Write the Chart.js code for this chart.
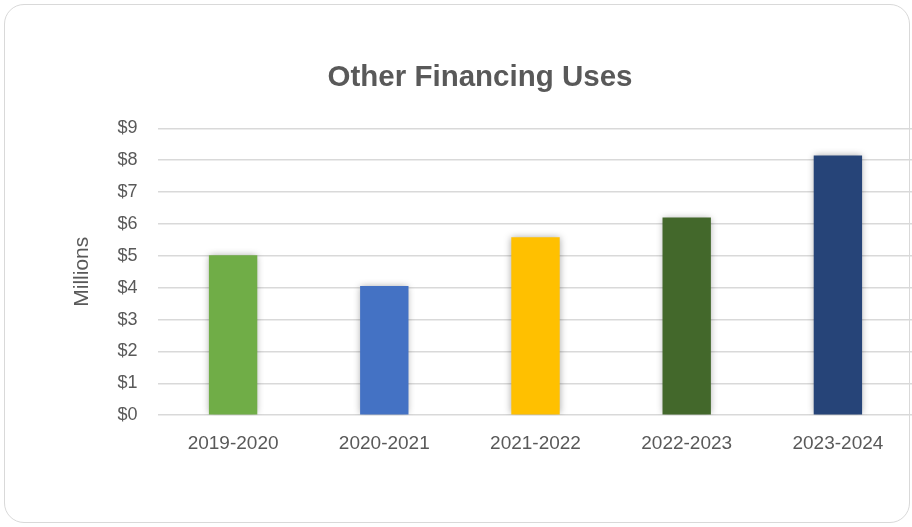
<!DOCTYPE html>
<html>
<head>
<meta charset="utf-8">
<script src="https://cdn.jsdelivr.net/npm/chart.js@4.4.1/dist/chart.umd.min.js"></script>
<style>
  html, body { margin: 0; padding: 0; background: #fff; overflow: hidden; }
  .card {
    position: absolute; left: 4px; top: 4px; width: 906px; height: 519px;
    border: 1.5px solid #d9d9d9; border-radius: 20px; box-sizing: border-box;
  }
  .wrap { position: absolute; left: 0; top: 0; width: 914px; height: 527px; }
</style>
</head>
<body>
<div class="card"></div>
<div class="wrap"><canvas id="chart" width="914" height="527"></canvas></div>
<script>
const categories = ['2019-2020', '2020-2021', '2021-2022', '2022-2023', '2023-2024'];
const values = [5.02, 4.05, 5.58, 6.2, 8.15];
const barColors = ['#70ad47', '#4472c4', '#ffc000', '#43682b', '#264478'];
const yTicks = [0, 1, 2, 3, 4, 5, 6, 7, 8, 9];

const textColor = '#595959';
const fontFamily = '"Liberation Sans", Arial, sans-serif';

// soft shadow round the bars, like the office chart
const barShadow = {
  id: 'barShadow',
  beforeDatasetsDraw(chart) {
    const ctx = chart.ctx;
    ctx.save();
    ctx.shadowColor = 'rgba(0,0,0,0.35)';
    ctx.shadowBlur = 7;
  },
  afterDatasetsDraw(chart) {
    chart.ctx.restore();
  }
};

new Chart(document.getElementById('chart').getContext('2d'), {
  type: 'bar',
  data: {
    labels: categories,
    datasets: [
      {
        label: 'Other Financing Uses',
        data: values,
        backgroundColor: barColors,
        borderWidth: 0,
        barPercentage: 0.32,
        categoryPercentage: 1,
      },
    ],
  },
  options: {
    responsive: false,
    animation: false,
    layout: {
      padding: { left: 46.5, right: 0.5, top: 0, bottom: 55 },
    },
    plugins: {
      legend: { display: false },
      tooltip: { enabled: false },
      title: {
        display: true,
        text: 'Other Financing Uses',
        color: textColor,
        font: { family: fontFamily, size: 29.5, weight: 'bold' },
        padding: { top: 60.3, bottom: 32.6 },
      },
    },
    scales: {
      x: {
        grid: { display: false, drawTicks: false },
        border: { display: false },
        ticks: {
          color: textColor,
          font: { family: fontFamily, size: 19 },
          padding: 17,
          maxRotation: 0,
        },
      },
      y: {
        min: 0,
        max: 9,
        afterBuildTicks(scale) {
          scale.ticks = yTicks.map((v) => ({ value: v }));
        },
        afterFit(scale) {
          scale.width = 111;
        },
        grid: { color: '#d9d9d9', lineWidth: 1.5, drawTicks: false },
        border: { display: false },
        ticks: {
          color: textColor,
          font: { family: fontFamily, size: 18 },
          padding: 20,
          callback: (v) => '$' + v,
        },
        title: {
          display: true,
          text: 'Millions',
          color: textColor,
          font: { family: fontFamily, size: 21 },
          padding: { top: 23, bottom: 0 },
        },
      },
    },
  },
  plugins: [barShadow],
});
</script>
</body>
</html>
